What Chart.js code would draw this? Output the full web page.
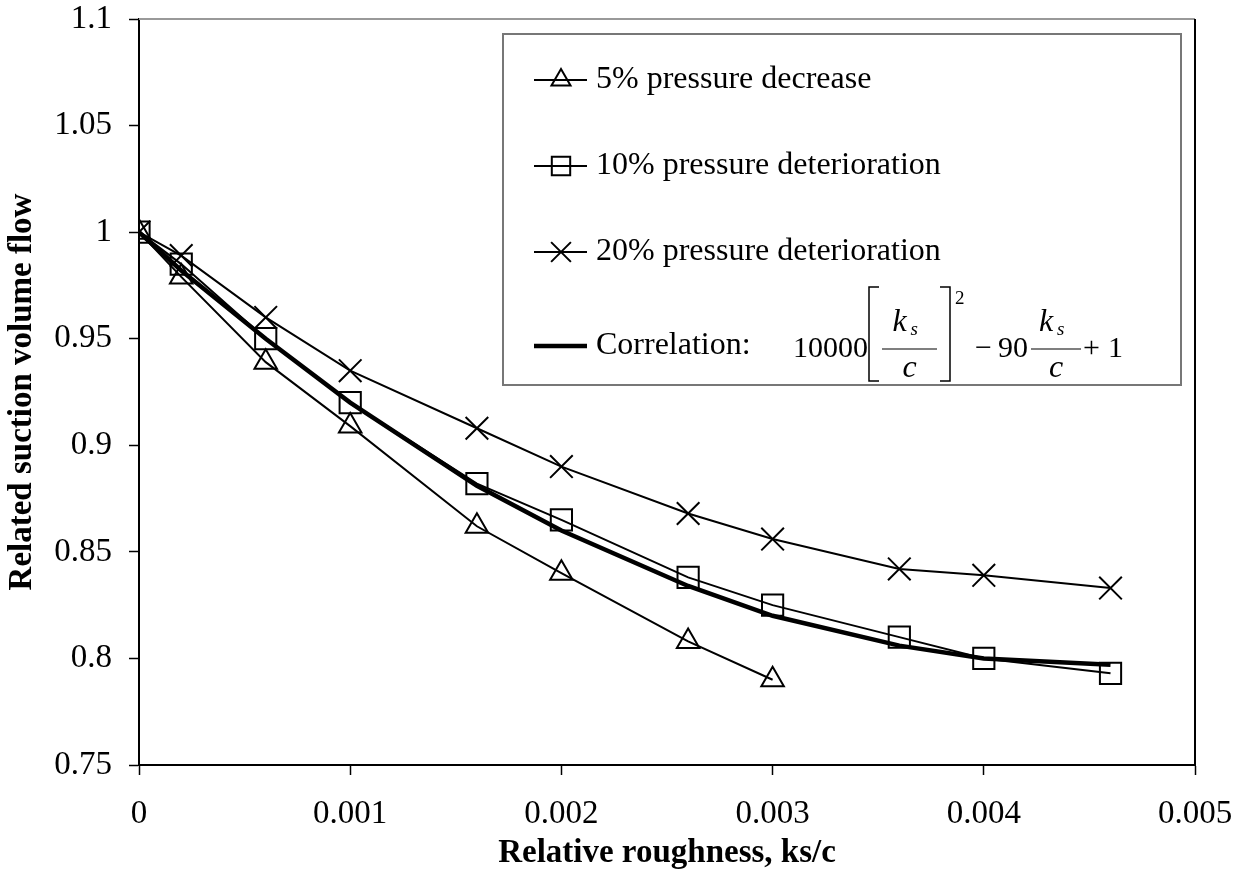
<!DOCTYPE html>
<html>
<head>
<meta charset="utf-8">
<script src="https://cdn.jsdelivr.net/npm/chart.js@4.4.0/dist/chart.umd.min.js"></script>
<style>
  html, body { margin: 0; padding: 0; background: #fff; }
  #wrap { width: 1242px; height: 885px; }
</style>
</head>
<body>
<div id="wrap"><canvas id="chart" width="1242" height="885"></canvas></div>
<script>
// values
const roughness = [0, 0.0002, 0.0006, 0.001, 0.0016, 0.002, 0.0026, 0.003, 0.0036, 0.004, 0.0046];
const flow5 = [1, 0.979, 0.939, 0.909, 0.862, 0.840, 0.808, 0.790];
const flow10 = [1, 0.985, 0.950, 0.920, 0.882, 0.865, 0.838, 0.825, 0.810, 0.800, 0.793];
const flow20 = [1, 0.989, 0.960, 0.935, 0.908, 0.890, 0.868, 0.856, 0.842, 0.839, 0.833];
const flowCorr = [1, 0.982, 0.950, 0.920, 0.881, 0.860, 0.834, 0.820, 0.806, 0.800, 0.797];
const xTicks = [0, 0.001, 0.002, 0.003, 0.004, 0.005];
const yTicks = [0.75, 0.8, 0.85, 0.9, 0.95, 1, 1.05, 1.1];
const seriesNames = ["5% pressure decrease", "10% pressure deterioration", "20% pressure deterioration", "Correlation:"];
const xTitle = "Relative roughness, ks/c";
const yTitle = "Related suction volume flow";

const serif = "'Liberation Serif', 'Times New Roman', serif";

function toPoints(ys) {
    return ys.map((y, i) => ({ x: roughness[i], y: y }));
}

const seriesStyles = [
    { pointStyle: "triangle", radius: 13, lineWidth: 2 },
    { pointStyle: "rect", radius: 15, lineWidth: 2 },
    { pointStyle: "crossRot", radius: 16, lineWidth: 2 },
    { pointStyle: false, radius: 0, lineWidth: 4.5 }
];

const datasets = [flow5, flow10, flow20, flowCorr].map((ys, i) => ({
    label: seriesNames[i],
    data: toPoints(ys),
    borderColor: "#000",
    borderWidth: seriesStyles[i].lineWidth,
    pointStyle: seriesStyles[i].pointStyle,
    pointRadius: seriesStyles[i].radius,
    pointBorderWidth: 2,
    pointBorderColor: "#000",
    pointBackgroundColor: "rgba(0,0,0,0)",
    tension: 0,
    fill: false
}));

// top and right frame of the plot area
const framePlugin = {
    id: "frame",
    afterDraw(chart) {
        const { ctx, chartArea: a } = chart;
        ctx.save();
        ctx.lineWidth = 2;
        ctx.strokeStyle = "#999";
        ctx.beginPath();
        ctx.moveTo(a.left, a.top);
        ctx.lineTo(a.right, a.top);
        ctx.stroke();
        ctx.strokeStyle = "#000";
        ctx.beginPath();
        ctx.moveTo(a.right, a.top);
        ctx.lineTo(a.right, a.bottom);
        ctx.stroke();
        ctx.restore();
    }
};

function drawFormula(ctx) {
    const base = 357;
    ctx.fillStyle = "#000";
    ctx.strokeStyle = "#000";
    ctx.textBaseline = "alphabetic";
    ctx.textAlign = "left";
    ctx.font = "30px " + serif;
    ctx.fillText("10000", 793, base);

    // brackets
    ctx.lineWidth = 1.5;
    ctx.beginPath();
    ctx.moveTo(879, 287); ctx.lineTo(869, 287); ctx.lineTo(869, 381); ctx.lineTo(879, 381);
    ctx.moveTo(940, 287); ctx.lineTo(950, 287); ctx.lineTo(950, 381); ctx.lineTo(940, 381);
    ctx.stroke();

    // fractions ks / c
    function frac(x0, x1) {
        const mid = (x0 + x1) / 2;
        ctx.lineWidth = 1.2;
        ctx.beginPath();
        ctx.moveTo(x0, 349);
        ctx.lineTo(x1, 349);
        ctx.stroke();
        ctx.font = "italic 32px " + serif;
        ctx.fillText("k", mid - 17, 331);
        ctx.font = "italic 19px " + serif;
        ctx.fillText("s", mid + 1, 335);
        ctx.font = "italic 32px " + serif;
        ctx.fillText("c", mid - 7, 377);
    }
    frac(882, 937);
    frac(1031, 1081);

    ctx.font = "19px " + serif;
    ctx.fillText("2", 955, 304);
    ctx.font = "30px " + serif;
    ctx.fillText("\u2212", 975, base);
    ctx.fillText("90", 998, base);
    ctx.fillText("+", 1083, base);
    ctx.fillText("1", 1108, base);
}

// legend box with line samples and the correlation formula
const legendPlugin = {
    id: "boxLegend",
    afterDraw(chart) {
        const ctx = chart.ctx;
        const rows = [80, 166, 252, 346];
        ctx.save();
        ctx.fillStyle = "#fff";
        ctx.fillRect(503, 34, 678, 351);
        ctx.lineWidth = 2;
        ctx.strokeStyle = "#777";
        ctx.strokeRect(503, 34, 678, 351);

        rows.forEach((y, i) => {
            const st = seriesStyles[i];
            ctx.strokeStyle = "#000";
            ctx.lineWidth = st.lineWidth;
            ctx.beginPath();
            ctx.moveTo(534, y);
            ctx.lineTo(587, y);
            ctx.stroke();
            if (st.pointStyle) {
                ctx.lineWidth = 2;
                ctx.fillStyle = "rgba(0,0,0,0)";
                Chart.helpers.drawPoint(ctx, {
                    pointStyle: st.pointStyle, radius: st.radius - 2, rotation: 0, borderWidth: 2
                }, 561, y);
            }
            ctx.fillStyle = "#000";
            ctx.font = "32px " + serif;
            ctx.textBaseline = "middle";
            ctx.textAlign = "left";
            ctx.fillText(seriesNames[i], 596, y);
        });
        drawFormula(ctx);
        ctx.restore();
    }
};

const tickFont = { family: serif, size: 33 };
const titleFont = { family: serif, size: 33, weight: "bold" };

new Chart(document.getElementById("chart"), {
    type: "line",
    data: { datasets: datasets },
    plugins: [framePlugin, legendPlugin],
    options: {
        responsive: false,
        animation: false,
        layout: { padding: { top: 19, right: 47, left: 0, bottom: 0 } },
        plugins: {
            legend: { display: false },
            tooltip: { enabled: false }
        },
        scales: {
            x: {
                type: "linear",
                min: 0,
                max: 0.005,
                afterBuildTicks: s => { s.ticks = xTicks.map(v => ({ value: v })); },
                afterFit: s => { s.height = 120; s.paddingLeft = 0; s.paddingRight = 0; },
                ticks: {
                    callback: v => String(v),
                    font: tickFont,
                    color: "#000",
                    padding: 20,
                    maxRotation: 0,
                    autoSkip: false
                },
                grid: { drawOnChartArea: false, drawTicks: true, tickLength: 10, tickColor: "#000", tickWidth: 1.5 },
                border: { color: "#000", width: 2 },
                title: { display: true, text: xTitle, font: titleFont, color: "#000", padding: { top: 0, bottom: 12 } }
            },
            y: {
                type: "linear",
                min: 0.75,
                max: 1.1,
                afterBuildTicks: s => { s.ticks = yTicks.map(v => ({ value: v })); },
                afterFit: s => { s.width = 139; s.paddingTop = 0; s.paddingBottom = 0; },
                ticks: {
                    callback: v => String(v),
                    font: tickFont,
                    color: "#000",
                    padding: 17,
                    autoSkip: false
                },
                grid: { drawOnChartArea: false, drawTicks: true, tickLength: 10, tickColor: "#000", tickWidth: 1.5 },
                border: { color: "#000", width: 2 },
                title: { display: true, text: yTitle, font: titleFont, color: "#000", padding: { top: 3, bottom: 0 } }
            }
        }
    }
});
</script>
</body>
</html>
